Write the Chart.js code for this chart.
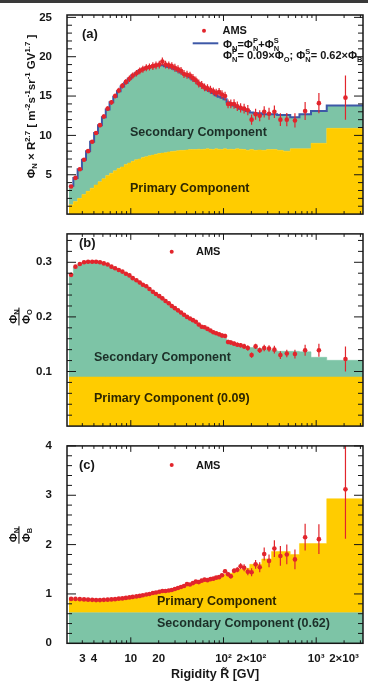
<!DOCTYPE html>
<html>
<head>
<meta charset="utf-8">
<script src="https://cdn.jsdelivr.net/npm/chart.js@4.4.1/dist/chart.umd.min.js"></script>
<style>
  body { margin: 0; background: #fff; }
  #wrap { position: relative; width: 368px; height: 686px; overflow: hidden; background: #fff; }
  #topline { position: absolute; left: 0; top: 0; width: 368px; height: 3px; background: #3a3a3a; }
  canvas { position: absolute; left: 0; }
</style>
</head>
<body>
<div id="wrap">
  <div id="topline"></div>
  <canvas id="chartA" width="368" height="228" style="top:0px;width:368px;height:228px"></canvas>
  <canvas id="chartB" width="368" height="220" style="top:220px;width:368px;height:220px"></canvas>
  <canvas id="chartC" width="368" height="254" style="top:432px;width:368px;height:254px"></canvas>
</div>
<script>
// rigidity bins (GV)
const binEdges = [2.15, 2.40, 2.67, 2.97, 3.29, 3.64, 4.02, 4.43, 4.88, 5.37,
  5.90, 6.47, 7.09, 7.76, 8.48, 9.26, 10.1, 11.0, 12.0, 13.0,
  14.1, 15.3, 16.6, 18.0, 19.5, 21.1, 22.8, 24.7, 26.7, 28.8,
  31.1, 33.5, 36.1, 38.9, 41.9, 45.1, 48.5, 52.2, 56.1, 60.3,
  64.8, 69.7, 74.9, 80.5, 86.5, 93.0, 100, 108, 116, 125,
  135, 147, 160, 175, 192, 211, 233, 259, 291, 330,
  379, 441, 525, 660, 880, 1300, 3300];
const rigidity = [2.27, 2.53, 2.82, 3.13, 3.46, 3.83, 4.22, 4.65, 5.12, 5.63,
  6.18, 6.77, 7.42, 8.11, 8.86, 9.67, 10.5, 11.5, 12.5, 13.5,
  14.7, 15.9, 17.3, 18.7, 20.3, 21.9, 23.7, 25.7, 27.7, 29.9,
  32.3, 34.8, 37.5, 40.4, 43.5, 46.8, 50.3, 54.1, 58.2, 62.5,
  67.2, 72.3, 77.7, 83.4, 89.7, 96.4, 104, 112, 120, 130,
  141, 153, 167, 183, 201, 222, 246, 275, 310, 354,
  411, 482, 590, 760, 1070, 2070];

// (a) flux x R^2.7
const fluxN = [3.5, 4.6, 5.7, 6.9, 8.0, 9.2, 10.3, 11.3, 12.4, 13.4,
  14.2, 15.0, 15.7, 16.3, 16.8, 17.2, 17.6, 17.9, 18.2, 18.4,
  18.6, 18.7, 18.8, 18.9, 19.0, 19.4, 19.0, 18.9, 18.8, 18.6,
  18.4, 18.2, 17.8, 17.7, 17.6, 17.3, 17.0, 16.6, 16.4, 16.1,
  16.0, 15.8, 15.6, 15.4, 15.5, 15.2, 15.0, 14.0, 14.0, 14.0,
  13.7, 13.5, 13.4, 13.2, 12.0, 12.7, 12.5, 13.0, 12.75, 13.0,
  12.0, 12.0, 11.9, 13.1, 14.1, 14.8];
const fluxErr = [0.15, 0.15, 0.18, 0.2, 0.2, 0.22, 0.25, 0.25, 0.28, 0.3,
  0.3, 0.32, 0.35, 0.35, 0.38, 0.4, 0.4, 0.42, 0.42, 0.45,
  0.45, 0.45, 0.48, 0.48, 0.5, 0.5, 0.5, 0.5, 0.5, 0.5,
  0.5, 0.5, 0.5, 0.5, 0.5, 0.5, 0.5, 0.5, 0.5, 0.5,
  0.5, 0.5, 0.5, 0.52, 0.52, 0.55, 0.55, 0.55, 0.55, 0.6,
  0.6, 0.6, 0.62, 0.65, 0.65, 0.7, 0.7, 0.72, 0.75, 0.8,
  0.8, 0.85, 0.9, 1.15, 1.3, 2.8];
const primFlux = [1.2, 1.6, 2.0, 2.5, 2.9, 3.3, 3.7, 4.1, 4.5, 4.9,
  5.2, 5.5, 5.8, 6.0, 6.3, 6.5, 6.7, 6.9, 7.0, 7.2,
  7.3, 7.4, 7.5, 7.6, 7.7, 7.75, 7.8, 7.9, 7.95, 8.0,
  8.05, 8.1, 8.1, 8.15, 8.2, 8.2, 8.2, 8.25, 8.2, 8.25,
  8.3, 8.25, 8.2, 8.3, 8.25, 8.2, 8.3, 8.2, 8.25, 8.2,
  8.3, 8.25, 8.2, 8.1, 8.2, 8.1, 8.15, 8.1, 8.2, 8.2,
  8.1, 8.0, 8.3, 8.3, 9.0, 10.9];
const modelFlux = [3.6, 4.6, 5.7, 6.9, 8.0, 9.2, 10.3, 11.3, 12.3, 13.3,
  14.2, 14.9, 15.6, 16.2, 16.7, 17.2, 17.6, 17.9, 18.2, 18.4,
  18.6, 18.7, 18.8, 18.9, 18.9, 18.9, 18.8, 18.7, 18.6, 18.4,
  18.2, 18.0, 17.8, 17.6, 17.4, 17.1, 16.9, 16.6, 16.3, 16.1,
  15.8, 15.6, 15.4, 15.1, 14.9, 14.8, 14.6, 14.2, 14.0, 13.8,
  13.6, 13.4, 13.3, 13.1, 12.9, 12.8, 12.8, 12.7, 12.7, 12.7,
  12.6, 12.6, 12.3, 12.7, 13.1, 13.8];

// (b) N/O
const ratioNO = [0.277, 0.292, 0.297, 0.300, 0.301, 0.301, 0.301, 0.300, 0.298, 0.296,
  0.292, 0.289, 0.286, 0.283, 0.279, 0.276, 0.271, 0.267, 0.263, 0.259,
  0.256, 0.251, 0.246, 0.242, 0.238, 0.234, 0.229, 0.225, 0.220, 0.216,
  0.212, 0.208, 0.204, 0.200, 0.197, 0.194, 0.191, 0.186, 0.182, 0.181,
  0.178, 0.175, 0.172, 0.170, 0.168, 0.166, 0.165, 0.154, 0.153, 0.151,
  0.149, 0.148, 0.146, 0.143, 0.130, 0.146, 0.139, 0.143, 0.142, 0.140,
  0.130, 0.133, 0.132, 0.139, 0.139, 0.123];
const ratioNOErr = [0.003, 0.003, 0.003, 0.003, 0.003, 0.003, 0.003, 0.003, 0.003, 0.003,
  0.003, 0.003, 0.003, 0.003, 0.003, 0.003, 0.003, 0.003, 0.003, 0.003,
  0.003, 0.003, 0.003, 0.003, 0.003, 0.003, 0.003, 0.003, 0.003, 0.003,
  0.003, 0.003, 0.003, 0.003, 0.003, 0.003, 0.003, 0.003, 0.003, 0.003,
  0.003, 0.003, 0.003, 0.003, 0.003, 0.004, 0.004, 0.004, 0.004, 0.004,
  0.004, 0.004, 0.005, 0.005, 0.005, 0.005, 0.005, 0.006, 0.006, 0.007,
  0.007, 0.007, 0.008, 0.010, 0.012, 0.023];
const modelNO = [0.279, 0.291, 0.297, 0.300, 0.301, 0.301, 0.300, 0.299, 0.297, 0.295,
  0.292, 0.289, 0.286, 0.282, 0.279, 0.275, 0.271, 0.267, 0.263, 0.259,
  0.255, 0.251, 0.246, 0.242, 0.238, 0.234, 0.229, 0.225, 0.221, 0.216,
  0.210, 0.206, 0.202, 0.198, 0.195, 0.192, 0.188, 0.184, 0.181, 0.178,
  0.175, 0.172, 0.170, 0.167, 0.165, 0.163, 0.161, 0.157, 0.155, 0.153,
  0.151, 0.149, 0.147, 0.145, 0.144, 0.143, 0.142, 0.141, 0.140, 0.139,
  0.137, 0.137, 0.137, 0.136, 0.126, 0.1205];
const primaryFracO = 0.09;

// (c) N/B
const ratioNB = [0.90, 0.90, 0.895, 0.89, 0.885, 0.88, 0.875, 0.875, 0.88, 0.885,
  0.89, 0.895, 0.905, 0.91, 0.92, 0.93, 0.94, 0.95, 0.96, 0.975,
  0.99, 1.00, 1.02, 1.03, 1.045, 1.06, 1.06, 1.07, 1.08, 1.10,
  1.12, 1.14, 1.16, 1.20, 1.19, 1.22, 1.25, 1.24, 1.27, 1.29,
  1.28, 1.30, 1.31, 1.33, 1.34, 1.38, 1.46, 1.40, 1.36, 1.47,
  1.49, 1.56, 1.53, 1.45, 1.44, 1.60, 1.54, 1.81, 1.67, 1.92,
  1.77, 1.80, 1.70, 2.15, 2.11, 3.12];
const ratioNBErr = [0.015, 0.015, 0.015, 0.015, 0.015, 0.015, 0.015, 0.015, 0.015, 0.015,
  0.015, 0.015, 0.015, 0.015, 0.015, 0.015, 0.015, 0.015, 0.015, 0.015,
  0.02, 0.02, 0.02, 0.02, 0.02, 0.02, 0.02, 0.02, 0.02, 0.02,
  0.025, 0.025, 0.025, 0.025, 0.025, 0.025, 0.025, 0.025, 0.025, 0.025,
  0.03, 0.03, 0.03, 0.03, 0.03, 0.03, 0.04, 0.04, 0.045, 0.05,
  0.05, 0.06, 0.07, 0.07, 0.08, 0.09, 0.1, 0.13, 0.13, 0.17,
  0.2, 0.2, 0.2, 0.27, 0.3, 1.0];
const modelNB = [0.91, 0.905, 0.90, 0.895, 0.89, 0.885, 0.88, 0.88, 0.885, 0.89,
  0.895, 0.90, 0.905, 0.91, 0.92, 0.93, 0.94, 0.95, 0.96, 0.975,
  0.99, 1.00, 1.015, 1.03, 1.04, 1.05, 1.06, 1.07, 1.085, 1.10,
  1.12, 1.14, 1.16, 1.18, 1.19, 1.21, 1.23, 1.24, 1.26, 1.28,
  1.29, 1.30, 1.31, 1.33, 1.35, 1.38, 1.40, 1.40, 1.42, 1.45,
  1.47, 1.50, 1.52, 1.52, 1.60, 1.60, 1.60, 1.71, 1.71, 1.86,
  1.86, 1.86, 1.80, 2.02, 2.02, 2.93];
const secondaryFracB = 0.62;

// axes
const xMin = 2.05, xMax = 3200;
const xTickVals = [3, 4, 10, 20, 100, 200, 1000, 2000];
const xTickLabels = ['3', '4', '10', '20', '10²', '2×10²', '10³', '2×10³'];
const yTicksA = [5, 10, 15, 20, 25];
const yTicksB = [0.1, 0.2, 0.3];
const yTicksC = [0, 1, 2, 3, 4];

const FONT = '"Liberation Sans", Arial, Helvetica, sans-serif';
const RED = '#e2252c';
const YELLOW = '#ffcc00';
const GREEN = '#7dc4a6';
const BLUE = '#3d58a7';
const INK = '#161616';

Chart.defaults.font.family = FONT;

function histPoints(vals) {
  const pts = vals.map((v, i) => ({x: binEdges[i], y: v}));
  pts.push({x: binEdges[vals.length], y: vals[vals.length - 1]});
  return pts;
}
function flatHist(v) {
  return histPoints(rigidity.map(() => v));
}
function amsPoints(vals) {
  return rigidity.map((r, i) => ({x: r, y: vals[i]}));
}

// rich text: parts = [text, sub, sup]
function measureRich(ctx, parts, size) {
  let w = 0;
  parts.forEach(p => {
    ctx.font = `bold ${size}px ${FONT}`;
    w += ctx.measureText(p[0]).width;
    ctx.font = `bold ${size * 0.68}px ${FONT}`;
    w += Math.max(p[1] ? ctx.measureText(p[1]).width : 0, p[2] ? ctx.measureText(p[2]).width : 0);
  });
  return w;
}
function drawRich(ctx, parts, x, y, size) {
  let cx = x;
  parts.forEach(p => {
    ctx.font = `bold ${size}px ${FONT}`;
    ctx.fillText(p[0], cx, y);
    cx += ctx.measureText(p[0]).width;
    ctx.font = `bold ${size * 0.68}px ${FONT}`;
    let w = 0;
    if (p[1]) { ctx.fillText(p[1], cx, y + size * 0.26); w = ctx.measureText(p[1]).width; }
    if (p[2]) { ctx.fillText(p[2], cx, y - size * 0.42); w = Math.max(w, ctx.measureText(p[2]).width); }
    cx += w;
  });
}
function drawFraction(ctx, cx, cy, sub1, sub2) {
  ctx.save();
  ctx.translate(cx, cy);
  ctx.rotate(-Math.PI / 2);
  ctx.fillStyle = INK;
  ctx.textBaseline = 'alphabetic';
  const top = [['Φ', sub1, '']];
  const bot = [['Φ', sub2, '']];
  const w1 = measureRich(ctx, top, 11);
  const w2 = measureRich(ctx, bot, 11);
  drawRich(ctx, top, -w1 / 2, -3.5, 11);
  drawRich(ctx, bot, -w2 / 2, 9.5, 11);
  const w = Math.max(w1, w2) + 3;
  ctx.fillRect(-w / 2, -1.6, w, 1.1);
  ctx.restore();
}
function label(ctx, text, x, y, size, color) {
  ctx.font = `bold ${size}px ${FONT}`;
  ctx.fillStyle = color;
  ctx.textBaseline = 'middle';
  ctx.textAlign = 'left';
  ctx.fillText(text, x, y);
}
function dot(ctx, x, y) {
  ctx.fillStyle = RED;
  ctx.beginPath();
  ctx.arc(x, y, 2, 0, Math.PI * 2);
  ctx.fill();
}

// vertical error bars under the AMS markers
const errBars = {
  id: 'errBars',
  beforeDatasetDraw(chart, args) {
    const ds = chart.data.datasets[args.index];
    if (!ds.errors) return;
    const {ctx, chartArea: a, scales: {x, y}} = chart;
    ctx.save();
    ctx.beginPath();
    ctx.rect(a.left, a.top, a.right - a.left, a.bottom - a.top);
    ctx.clip();
    ctx.strokeStyle = RED;
    ctx.lineWidth = 1.2;
    ctx.beginPath();
    ds.data.forEach((p, i) => {
      const px = x.getPixelForValue(p.x);
      ctx.moveTo(px, y.getPixelForValue(p.y - ds.errors[i]));
      ctx.lineTo(px, y.getPixelForValue(p.y + ds.errors[i]));
    });
    ctx.stroke();
    ctx.restore();
  }
};
Chart.register(errBars);

// ROOT-like frame with inward ticks
function makeFrame(yTicks, yMinor) {
  return {
    id: 'frame',
    afterDatasetsDraw(chart) {
      const {ctx, chartArea: a, scales: {x, y}} = chart;
      ctx.save();
      ctx.strokeStyle = INK;
      ctx.lineWidth = 1;
      ctx.beginPath();
      const n = Math.floor((y.max - y.min) / yMinor + 1e-6);
      for (let i = 1; i <= n; i++) {
        const v = y.min + i * yMinor;
        const py = y.getPixelForValue(v);
        const major = yTicks.some(t => Math.abs(t - v) < yMinor / 10);
        const len = major ? 9 : 5;
        ctx.moveTo(a.left, py); ctx.lineTo(a.left + len, py);
        ctx.moveTo(a.right, py); ctx.lineTo(a.right - len, py);
      }
      for (let d = 1; d <= 1000; d *= 10) {
        for (let m = 1; m <= 9; m++) {
          const v = m * d;
          if (v < x.min || v > x.max) continue;
          const px = x.getPixelForValue(v);
          const len = m === 1 ? 6 : 3;
          ctx.moveTo(px, a.bottom); ctx.lineTo(px, a.bottom - len);
          ctx.moveTo(px, a.top); ctx.lineTo(px, a.top + len);
        }
      }
      ctx.stroke();
      ctx.lineWidth = 1.5;
      ctx.strokeRect(a.left, a.top, a.right - a.left, a.bottom - a.top);
      ctx.restore();
    }
  };
}

function xAxis(show) {
  return {
    type: 'logarithmic', min: xMin, max: xMax, display: show,
    grid: {display: false}, border: {display: false},
    afterBuildTicks: s => { s.ticks = xTickVals.map(v => ({value: v})); },
    afterFit: s => { s.height = show ? 42.7 : 0; },
    ticks: {
      autoSkip: false, maxRotation: 0, padding: 1, color: INK,
      font: {size: 11.5, weight: 'bold'},
      callback: (v, i) => xTickLabels[i]
    },
    title: {
      display: true, text: 'Rigidity R̃ [GV]', color: INK,
      font: {size: 12.5, weight: 'bold'}, padding: {top: 0, bottom: 3.5}
    }
  };
}
function yAxis(min, max, ticks) {
  return {
    type: 'linear', min: min, max: max,
    grid: {display: false}, border: {display: false},
    afterBuildTicks: s => { s.ticks = ticks.map(v => ({value: v})); },
    afterFit: s => { s.width = 67; },
    ticks: {
      autoSkip: false, padding: 7, color: INK,
      font: {size: 11.5, weight: 'bold'},
      callback: v => String(v)
    }
  };
}
function baseOptions(padding, showX, yMin, yMax, yTicks) {
  return {
    responsive: false,
    animation: false,
    devicePixelRatio: 1,
    layout: {padding: padding},
    plugins: {legend: {display: false}, tooltip: {enabled: false}},
    scales: {x: xAxis(showX), y: yAxis(yMin, yMax, yTicks)}
  };
}
function amsDataset(vals, errs) {
  return {
    label: 'AMS', data: amsPoints(vals), errors: errs, showLine: false,
    pointRadius: 2.3, pointBackgroundColor: RED, pointBorderWidth: 0, pointHoverRadius: 0
  };
}
function histDataset(name, pts, color, fill, lineColor, lineWidth) {
  return {
    label: name, data: pts, showLine: true, stepped: true, pointRadius: 0,
    borderColor: lineColor, borderWidth: lineWidth, backgroundColor: color, fill: fill
  };
}

// ---------- (a) ----------
new Chart(document.getElementById('chartA'), {
  type: 'line',
  data: {
    datasets: [
      amsDataset(fluxN, fluxErr),
      histDataset('Primary', histPoints(primFlux), YELLOW, 'origin', YELLOW, 0.5),
      histDataset('Model', histPoints(modelFlux), GREEN, 1, BLUE, 2)
    ]
  },
  options: baseOptions({top: 15, right: 5, bottom: 10.7, left: 0}, false, 0, 25.3, yTicksA),
  plugins: [makeFrame(yTicksA, 1), {
    id: 'notesA',
    afterDraw(chart) {
      const ctx = chart.ctx;
      ctx.save();
      label(ctx, '(a)', 82, 34, 13, INK);
      dot(ctx, 204, 30.7);
      label(ctx, 'AMS', 222.5, 31, 11, INK);
      ctx.strokeStyle = BLUE;
      ctx.lineWidth = 2;
      ctx.beginPath(); ctx.moveTo(192.7, 43.3); ctx.lineTo(218.3, 43.3); ctx.stroke();
      ctx.fillStyle = INK;
      ctx.textBaseline = 'alphabetic';
      drawRich(ctx, [['Φ', 'N', ''], ['=Φ', 'N', 'P'], ['+Φ', 'N', 'S']], 223, 48, 11);
      drawRich(ctx, [['Φ', 'N', 'P'], ['= 0.09×Φ', 'O', ''], ['; Φ', 'N', 'S'], ['= 0.62×Φ', 'B', '']], 223, 59, 11);
      label(ctx, 'Secondary Component', 130, 133, 12.5, '#1c2f28');
      label(ctx, 'Primary Component', 130, 189, 12.5, '#2d2600');
      // y title
      ctx.save();
      ctx.translate(34.5, 106.5);
      ctx.rotate(-Math.PI / 2);
      ctx.fillStyle = INK;
      ctx.textBaseline = 'alphabetic';
      const title = [['Φ', 'N', ''], [' × R', '', '2.7'], [' [ m', '', '-2'], ['s', '', '-1'],
        ['sr', '', '-1'], [' GV', '', '1.7'], [' ]', '', '']];
      const w = measureRich(ctx, title, 11.5);
      drawRich(ctx, title, -w / 2, 0, 11.5);
      ctx.restore();
      ctx.restore();
    }
  }]
});

// ---------- (b) ----------
new Chart(document.getElementById('chartB'), {
  type: 'line',
  data: {
    datasets: [
      amsDataset(ratioNO, ratioNOErr),
      histDataset('Primary', flatHist(primaryFracO), YELLOW, 'origin', YELLOW, 0.5),
      histDataset('Model', histPoints(modelNO), GREEN, 1, GREEN, 0.5)
    ]
  },
  options: baseOptions({top: 8.5, right: 5, bottom: 10.1, left: 0}, false, 0, 0.352, yTicksB),
  plugins: [makeFrame(yTicksB, 0.02), {
    id: 'notesB',
    afterDraw(chart) {
      const ctx = chart.ctx;
      ctx.save();
      label(ctx, '(b)', 79, 23.5, 13, INK);
      dot(ctx, 171.7, 31.7);
      label(ctx, 'AMS', 196, 32, 11, INK);
      label(ctx, 'Secondary Component', 94, 137.5, 12.5, '#1c2f28');
      label(ctx, 'Primary Component (0.09)', 94, 178.3, 12.5, '#2d2600');
      drawFraction(ctx, 20, 96.5, 'N', 'O');
      ctx.restore();
    }
  }]
});

// ---------- (c) ----------
new Chart(document.getElementById('chartC'), {
  type: 'line',
  data: {
    datasets: [
      amsDataset(ratioNB, ratioNBErr),
      histDataset('Secondary', flatHist(secondaryFracB), GREEN, 'origin', GREEN, 0.5),
      histDataset('Model', histPoints(modelNB), YELLOW, 1, YELLOW, 0.5)
    ]
  },
  options: baseOptions({top: 10.5, right: 5, bottom: 0, left: 0}, true, 0, 4, yTicksC),
  plugins: [makeFrame(yTicksC, 0.2), {
    id: 'notesC',
    afterDraw(chart) {
      const ctx = chart.ctx;
      ctx.save();
      label(ctx, '(c)', 79, 33.5, 13, INK);
      dot(ctx, 171.7, 33);
      label(ctx, 'AMS', 196, 33.5, 11, INK);
      label(ctx, 'Primary Component', 157, 169.7, 12.5, '#2d2600');
      label(ctx, 'Secondary Component (0.62)', 157, 191.3, 12.5, '#1c2f28');
      drawFraction(ctx, 20, 103, 'N', 'B');
      ctx.restore();
    }
  }]
});
</script>
</body>
</html>
